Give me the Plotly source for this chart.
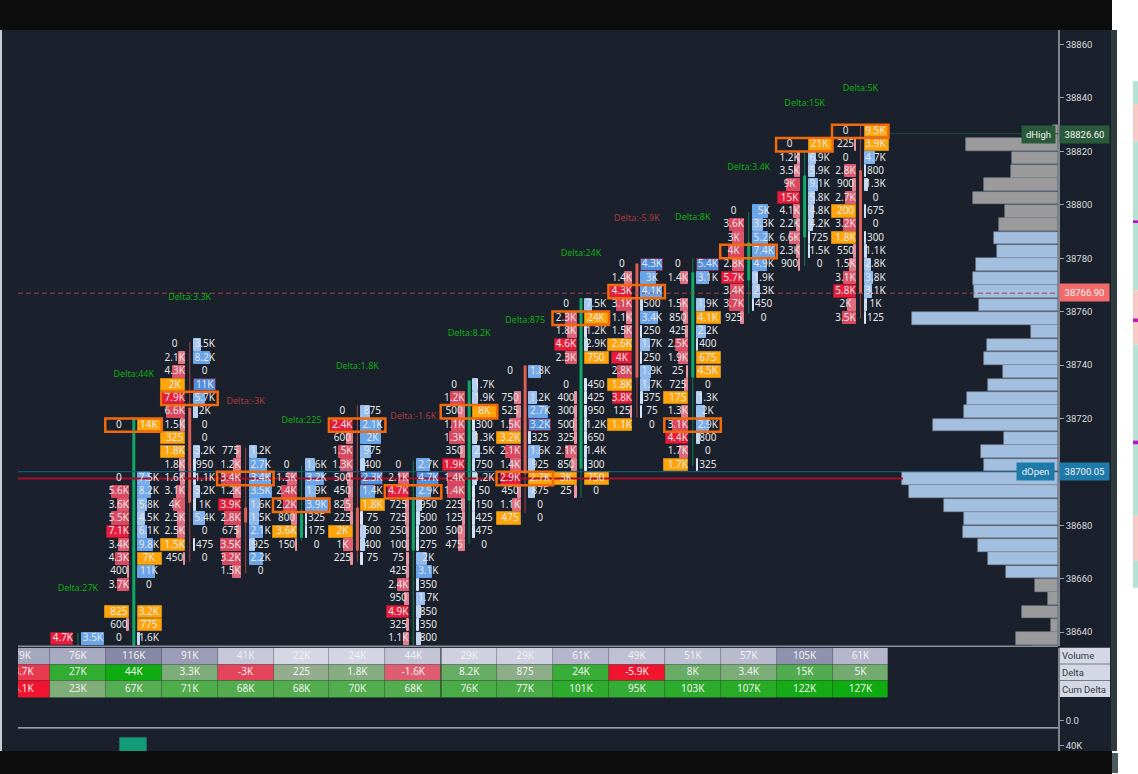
#!/usr/bin/env python3
"""Footprint chart with volume profile and delta table, redrawn in Plotly"""

import plotly.graph_objs as go

W, H = 1138, 776  # asked a bit taller than the window, the page does not scroll
PLOT_H = 775
COL_PX = 55.9
X0_PX = 22

# cells per column, top row first, a row every 5 points, None = empty row
c1_top, c1_bid, c1_ask = 38637.5, ['4.7K'], ['3.5K']
c2_top = 38717.5
c2_bid = ['0', None, None, None, '0', '5.6K', '3.6K', '5.5K', '7.1K', '3.4K', '4.3K', '400', '3.7K', None, '825', '600', '0']
c2_ask = ['14K', None, None, None, '7.5K', '8.2K', '5.8K', '4.5K', '6.1K', '9.8K', '7K', '11K', '0', None, '3.2K', '775', '1.6K']
c3_top = 38747.5
c3_bid = ['0', '2.1K', '4.3K', '2K', '7.9K', '6.6K', '1.5K', '325', '1.8K', '1.8K', '1.6K', '3.1K', '4K', '2.5K', '2.5K', '1.5K', '450']
c3_ask = ['3.5K', '8.2K', '0', '11K', '5.7K', '2K', '0', '0', '3.2K', '950', '1.1K', '3.2K', '1K', '5.4K', '0', '475', '0']
c4_top = 38707.5
c4_bid = ['775', '1.2K', '3.4K', '1.2K', '3.9K', '2.8K', '675', '3.5K', '3.2K', '1.5K']
c4_ask = ['1.2K', '2.7K', '3.4K', '3.5K', '1.6K', '1.5K', '2.1K', '925', '2.2K', '0']
c5_top = 38702.5
c5_bid = ['0', '1.5K', '2.4K', '2.2K', '800', '3.6K', '150']
c5_ask = ['1.6K', '3.2K', '1.9K', '3.9K', '325', '175', '0']
c6_top = 38722.5
c6_bid = ['0', '2.4K', '600', '1.5K', '1.3K', '500', '450', '825', '225', '2K', '1K', '225']
c6_ask = ['875', '2.1K', '2K', '975', '400', '2.3K', '1.4K', '1.8K', '75', '500', '400', '75']
c7_top = 38702.5
c7_bid = ['0', '2.1K', '4.7K', '725', '725', '250', '100', '75', '425', '2.4K', '950', '4.9K', '325', '1.1K']
c7_ask = ['2.7K', '4.7K', '2.9K', '950', '500', '200', '275', '2K', '3.1K', '350', '1.7K', '850', '350', '800']
c8_top = 38732.5
c8_bid = ['0', '1.2K', '500', '1.1K', '1.3K', '350', '1.9K', '1.4K', '1.4K', '225', '125', '500', '475']
c8_ask = ['1.7K', '1.9K', '8K', '300', '1.3K', '2.5K', '750', '1.2K', '50', '150', '425', '475', '0']
c9_top = 38737.5
c9_bid = ['0', None, '750', '525', '1.5K', '3.2K', '2.1K', '1.4K', '2.9K', '450', '1.1K', '475']
c9_ask = ['1.8K', None, '1.2K', '2.7K', '3.2K', '325', '1.6K', '925', '2.7K', '875', '0', '0']
c10_top = 38762.5
c10_bid = ['0', '2.3K', '1.8K', '4.6K', '2.3K', None, '0', '400', '300', '500', '325', '2.1K', '850', '3K', '25']
c10_ask = ['7.5K', '24K', '1.2K', '2.9K', '750', None, '450', '425', '950', '1.2K', '650', '1.4K', '300', '750', '0']
c11_top = 38777.5
c11_bid = ['0', '1.4K', '4.3K', '3.1K', '1.1K', '1.5K', '2.6K', '4K', '2.8K', '1.8K', '3.8K', '125', '1.1K']
c11_ask = ['4.3K', '3K', '4.1K', '500', '3.4K', '250', '1.7K', '250', '1.9K', '1.7K', '375', '75', '0']
c12_top = 38777.5
c12_bid = ['0', '1.4K', None, '1.5K', '850', '425', '2.5K', '1.9K', '25', '725', '175', '1.3K', '3.1K', '4.4K', '1.7K', '1.7K']
c12_ask = ['5.4K', '3.1K', None, '1.9K', '4.1K', '2.2K', '400', '675', '4.5K', '0', '1.3K', '2K', '2.9K', '800', '0', '325']
c13_top = 38797.5
c13_bid = ['0', '3.6K', '3K', '4K', '2.8K', '5.7K', '3.4K', '3.7K', '925']
c13_ask = ['5K', '3.3K', '5.2K', '7.4K', '4.9K', '1.9K', '2.3K', '450', '0']
c14_top = 38822.5
c14_bid = ['0', '1.2K', '3.5K', '9K', '15K', '4.1K', '2.2K', '6.6K', '2.3K', '900']
c14_ask = ['21K', '6.9K', '5.9K', '9.1K', '5.8K', '4.8K', '4.2K', '725', '1.5K', '0']
c15_top = 38827.5
c15_bid = ['0', '225', '0', '2.8K', '900', '2.7K', '200', '3.2K', '1.8K', '550', '1.5K', '3.1K', '5.8K', '2K', '3.5K']
c15_ask = ['9.5K', '3.9K', '4.7K', '800', '1.3K', '0', '675', '0', '300', '1.1K', '2.8K', '3.8K', '3.1K', '1K', '125']

col_tops = [c1_top, c2_top, c3_top, c4_top, c5_top, c6_top, c7_top, c8_top, c9_top, c10_top, c11_top, c12_top, c13_top, c14_top, c15_top]
col_bids = [c1_bid, c2_bid, c3_bid, c4_bid, c5_bid, c6_bid, c7_bid, c8_bid, c9_bid, c10_bid, c11_bid, c12_bid, c13_bid, c14_bid, c15_bid]
col_asks = [c1_ask, c2_ask, c3_ask, c4_ask, c5_ask, c6_ask, c7_ask, c8_ask, c9_ask, c10_ask, c11_ask, c12_ask, c13_ask, c14_ask, c15_ask]

# (column, price) of the flagged cells
amber_bid = [(2, 38647.5), (3, 38732.5), (3, 38712.5), (3, 38707.5), (3, 38672.5), (5, 38677.5), (6, 38677.5),
             (9, 38712.5), (9, 38682.5), (10, 38697.5), (11, 38747.5), (11, 38732.5), (11, 38717.5),
             (12, 38727.5), (12, 38702.5), (15, 38797.5), (15, 38787.5)]
amber_ask = [(2, 38717.5), (2, 38667.5), (2, 38647.5), (2, 38642.5), (6, 38687.5), (8, 38722.5), (9, 38697.5),
             (10, 38757.5), (10, 38742.5), (10, 38697.5), (12, 38757.5), (12, 38742.5), (12, 38737.5),
             (14, 38822.5), (15, 38827.5), (15, 38822.5)]
strong_bid = [(1, 38637.5), (2, 38677.5), (3, 38727.5), (4, 38687.5), (6, 38717.5), (7, 38692.5), (7, 38647.5),
              (8, 38702.5), (9, 38712.5), (9, 38697.5), (10, 38747.5), (11, 38767.5), (11, 38742.5), (11, 38727.5),
              (12, 38712.5), (13, 38772.5), (14, 38802.5), (15, 38767.5)]
strong_ask = [(3, 38732.5), (6, 38697.5), (7, 38697.5), (9, 38717.5), (11, 38777.5), (12, 38777.5)]
poc_rows = [(2, 38717.5), (3, 38727.5), (4, 38697.5), (5, 38687.5), (6, 38717.5), (7, 38692.5), (8, 38722.5),
            (9, 38697.5), (10, 38757.5), (11, 38767.5), (12, 38717.5), (13, 38782.5), (14, 38822.5), (15, 38827.5)]

# candle per column: wick high, wick low, body high, body low
candle_up = [True, True, False, False, True, False, True, True, False, True, False, True, True, True, False]
wick_high = [38639.7, 38720, 38748.5, 38709, 38702.3, 38724.8, 38704.2, 38734.2, 38739.8, 38765, 38778, 38780, 38797.2, 38820.4, 38829.8]
wick_low = [38634.8, 38634.8, 38666.3, 38662, 38674.2, 38666.3, 38634.8, 38673.1, 38684.7, 38690.3, 38720.3, 38702.3, 38759.3, 38777.3, 38757.4]
body_high = [38639.7, 38720, 38724, 38686.6, 38684.3, 38686.6, 38690.3, 38734.2, 38739.8, 38765, 38778, 38774.7, 38786, 38811, 38812.9]
body_low = [38639.7, 38634.8, 38688.5, 38681, 38675.3, 38670.5, 38670.5, 38689.2, 38699.3, 38701.2, 38735.3, 38735.3, 38771.7, 38787.8, 38766.8]

# delta captions over the columns
delta_cols = [1, 2, 3, 4, 5, 6, 7, 8, 9, 10, 11, 12, 13, 14, 15]
delta_text = ['Delta:27K', 'Delta:44K', 'Delta:3.3K', 'Delta:-3K', 'Delta:225', 'Delta:1.8K', 'Delta:-1.6K', 'Delta:8.2K',
              'Delta:875', 'Delta:24K', 'Delta:-5.9K', 'Delta:8K', 'Delta:3.4K', 'Delta:15K', 'Delta:5K']
delta_price = [38656.2, 38736.5, 38765, 38726.3, 38719.2, 38739.4, 38720.7, 38751.8, 38756.7, 38781.8, 38794.6, 38795, 38813.7, 38837.7, 38843.3]

# table under the footprint, first column is cut by the left edge
volume_row = ['79K', '76K', '116K', '91K', '41K', '22K', '24K', '44K', '29K', '29K', '61K', '49K', '51K', '57K', '105K', '61K']
delta_row = ['-3.7K', '27K', '44K', '3.3K', '-3K', '225', '1.8K', '-1.6K', '8.2K', '875', '24K', '-5.9K', '8K', '3.4K', '15K', '5K']
cum_row = ['-4.1K', '23K', '67K', '71K', '68K', '68K', '70K', '68K', '76K', '77K', '101K', '95K', '103K', '107K', '122K', '127K']
row_names = ['Volume', 'Delta', 'Cum Delta']

# volume profile, top row first
profile_top = 38827.5
profile_vol = [2.5, 46, 23, 23.5, 37, 42.5, 26.5, 29.5, 32, 30.5, 41, 42.5, 42, 39.5, 73, 13.5, 35.5, 37, 27.5, 35,
               45.5, 47, 62.5, 27, 38.5, 37, 78, 74.5, 57, 47, 47.5, 40, 35, 26, 11.5, 5, 18, 3.5, 21, 13]
value_area = (38662.5, 38787.5)

# price levels
d_high = 38826.60
d_open = 38700.05
last_price = 38766.90
red_level = 38697.5
price_ticks = [38640, 38660, 38680, 38700, 38720, 38740, 38760, 38780, 38800, 38820, 38840, 38860]
hidden_tick = 38700

BG = '#1a202c'
GREEN_BODY, RED_BODY = '#10a866', '#dd5f52'
GREEN_WICK, RED_WICK = '#11704c', '#8f3d3f'
AMBER = '#ffa50a'
ORANGE = '#f26a0c'
TEXT = '#e6e6e6'


def value_of(label):
    if label is None:
        return 0.0
    return float(label[:-1]) * 1000 if label.endswith('K') else float(label)


def mix(a, b, t):
    t = max(0.0, min(1.0, t))
    pa = [int(a[i:i + 2], 16) for i in (1, 3, 5)]
    pb = [int(b[i:i + 2], 16) for i in (1, 3, 5)]
    return 'rgb(%d,%d,%d)' % tuple(round(x + (y - x) * t) for x, y in zip(pa, pb))


def px_x(px):
    return (px - X0_PX) / COL_PX


def paper_x(px):
    return px / W


def paper_y(py):
    return 1 - py / PLOT_H


def price_at(py):
    return 38860 - (py - 44.5) / 2.667


def rect(x0, y0, x1, y1, color):
    return dict(type='rect', xref='paper', yref='paper', x0=paper_x(x0), x1=paper_x(x1),
                y0=paper_y(y0), y1=paper_y(y1), fillcolor=color, line=dict(width=0), layer='below')


def hline_px(x0, x1, y, color, width=1):
    return dict(type='line', xref='paper', yref='paper', x0=paper_x(x0), x1=paper_x(x1),
                y0=paper_y(y), y1=paper_y(y), line=dict(color=color, width=width))


def cell_lists():
    """Bars and labels for both sides of every footprint column"""
    bars = dict(x=[], base=[], y=[], color=[], edge=[])
    labels = dict(x=[], y=[], text=[])
    for col, (top, bids, asks) in enumerate(zip(col_tops, col_bids, col_asks), start=1):
        for side, cells, amber, strong in (('bid', bids, amber_bid, strong_bid), ('ask', asks, amber_ask, strong_ask)):
            peak = max(value_of(c) for c in cells) or 1
            for i, label in enumerate(cells):
                if label is None:
                    continue
                price = top - 5 * i
                vol = value_of(label)
                key = (col, price)
                if key in amber:
                    width, color, edge = 24, AMBER, '#c98a1c'
                elif vol == 0:
                    width, color, edge = 0, BG, BG
                else:
                    width = max(1.5, 22 * vol / peak)
                    if side == 'bid':
                        color = '#e81c3c' if key in strong else mix('#e79aa8', '#d9485f', vol / peak * 1.6)
                        edge = '#a01a30' if key in strong else color
                    else:
                        color = '#4f8fdf' if key in strong else mix('#dfe8f6', '#6aa5ea', vol / peak * 1.6)
                        edge = '#7a2a40' if key in strong else color
                if width:
                    gap = 4.5 if side == 'bid' else 4
                    start = col - (gap + width) / COL_PX if side == 'bid' else col + gap / COL_PX
                    bars['x'].append(width / COL_PX)
                    bars['base'].append(start)
                    bars['y'].append(price)
                    bars['color'].append(color)
                    bars['edge'].append(edge)
                labels['x'].append(col + (-15 if side == 'bid' else 15) / COL_PX)
                labels['y'].append(price)
                labels['text'].append(label)
    return bars, labels


fig = go.Figure()

# volume profile
profile_prices = [profile_top - 5 * i for i in range(len(profile_vol))]
x_right = px_x(1058)
profile_w = [v * 2 / COL_PX for v in profile_vol]
fig.add_trace(go.Bar(
    orientation='h', y=profile_prices, x=profile_w, base=[x_right - w for w in profile_w], width=4.75,
    marker=dict(color=['#a3bfe0' if value_area[0] <= p <= value_area[1] else '#9b9b9b' for p in profile_prices],
                line=dict(color='#7c8798', width=0.6)),
))

# footprint cells
bars, labels = cell_lists()
fig.add_trace(go.Bar(
    orientation='h', y=bars['y'], x=bars['x'], base=bars['base'], width=4.55,
    marker=dict(color=bars['color'], line=dict(color=bars['edge'], width=1)),
))

# candles
cols = list(range(1, 16))
for up, wick_color, body_color in ((True, GREEN_WICK, GREEN_BODY), (False, RED_WICK, RED_BODY)):
    wx, wy, bx, by = [], [], [], []
    for i, col in enumerate(cols):
        if candle_up[i] == up:
            wx += [col, col, None]
            wy += [wick_high[i], wick_low[i], None]
            bx += [col, col, None]
            by += [body_high[i], body_low[i], None]
    fig.add_trace(go.Scatter(x=wx, y=wy, mode='lines', line=dict(color=wick_color, width=1.2)))
    fig.add_trace(go.Scatter(x=bx, y=by, mode='lines', line=dict(color=body_color, width=3)))

# price levels
x_left = px_x(18)
fig.add_trace(go.Scatter(x=[x_left, x_right], y=[d_open, d_open], mode='lines', line=dict(color='#1a5f86', width=1)))
fig.add_trace(go.Scatter(x=[x_left, px_x(903)], y=[red_level, red_level], mode='lines', line=dict(color='#a30f2c', width=2)))
fig.add_trace(go.Scatter(x=[x_left, x_right], y=[last_price, last_price], mode='lines',
                         line=dict(color='#a04646', width=1, dash='5px,3px')))
fig.add_trace(go.Scatter(x=[px_x(888), x_right], y=[d_high, d_high], mode='lines', line=dict(color='#1f4a38', width=1)))

# cell text and delta captions
fig.add_trace(go.Scatter(x=labels['x'], y=labels['y'], text=labels['text'], mode='text',
                         textfont=dict(family='Noto Sans', size=10, color=TEXT)))
fig.add_trace(go.Scatter(
    x=delta_cols, y=delta_price, text=delta_text, mode='text',
    textfont=dict(family='Noto Sans', size=9, color=['#a83c3c' if '-' in t else '#10ad10' for t in delta_text]),
))

# table rows
table_cols = list(range(16))
row_h = 16.5
t_vol = [value_of(v) for v in volume_row]
t_delta = [value_of(v) for v in delta_row]
t_cum = [value_of(v) for v in cum_row]
vol_colors = [mix('#d6d7e5', '#8688a6', (v - 22000) / 94000) for v in t_vol]
delta_colors = [mix('#99ad94', '#10ab10', (v / 44000) ** 0.6) if v >= 0 else mix('#d8788a', '#f0142e', -v / 5900) for v in t_delta]
cum_colors = [mix('#8fae88', '#10ab10', (v / 127000) ** 1.2) if v >= 0 else '#f0142e' for v in t_cum]
for r, (row_text, row_colors) in enumerate(((volume_row, vol_colors), (delta_row, delta_colors), (cum_row, cum_colors))):
    base = 73 - row_h * (r + 1)
    fig.add_trace(go.Bar(x=table_cols, y=[row_h] * 16, base=[base] * 16, width=1, yaxis='y2',
                         marker=dict(color=row_colors, line=dict(color='rgba(30,40,50,0.25)', width=0.5))))
    fig.add_trace(go.Scatter(x=table_cols, y=[base + row_h / 2] * 16, text=row_text, mode='text', yaxis='y2',
                             textfont=dict(family='Noto Sans', size=10, color='#f0f0f0')))

# lower pane, only the largest delta reaches into view
fig.add_trace(go.Bar(x=table_cols, y=[abs(v) / 1000 for v in t_delta], width=0.48, yaxis='y3',
                     marker=dict(color='#159a78', line=dict(color='#1d6f5c', width=1))))

# tag arrows next to the price scale
tag_prices = [d_high, last_price, d_open]
tag_colors = ['#2a5a3c', '#f26b6b', '#1e7aa8']
fig.add_trace(go.Scatter(x=[px_x(1063)] * 3, y=tag_prices, mode='markers', cliponaxis=False,
                         marker=dict(symbol='triangle-left', size=11, color=tag_colors)))

shapes = [
    rect(2, 30, 1112, 750, BG),
    rect(0, 0, 1112, 30, '#0c0c0c'),
    rect(0, 750, 1112, 776, '#0c0c0c'),
    rect(0, 30, 2, 750, '#c9ccd2'),
    rect(1111, 30, 1117, 750, '#2f3a3d'),
    rect(1112, 752, 1118, 772, '#4c5a60'),
    rect(1059, 647, 1110, 663, '#d5d7e5'),
    rect(1059, 663.5, 1110, 679.5, '#d5d7e5'),
    rect(1059, 680, 1110, 696, '#d5d7e5'),
    # neighbouring chart peeking in at the right edge
    rect(1133, 81, 1138, 104, '#b6e2d6'),
    rect(1133, 104, 1138, 141, '#f9c9c6'),
    rect(1133, 141, 1138, 220, '#b6e2d6'),
    rect(1133, 220, 1138, 223, '#b414c8'),
    rect(1133, 223, 1138, 290, '#b6e2d6'),
    rect(1133, 290, 1138, 318, '#f9c9c6'),
    rect(1133, 318, 1138, 322, '#c41cb0'),
    rect(1133, 322, 1138, 344, '#f9c9c6'),
    rect(1133, 344, 1138, 440, '#b6e2d6'),
    rect(1133, 440, 1138, 444, '#b414c8'),
    rect(1133, 444, 1138, 515, '#b6e2d6'),
    rect(1133, 515, 1138, 560, '#f9c9c6'),
    rect(1133, 560, 1138, 587, '#b6e2d6'),
    hline_px(18, 1058, 645.5, '#8b9098', 1.5),
    hline_px(18, 1058, 727, '#c3c6cc', 1.2),
    dict(type='line', xref='paper', yref='paper', x0=paper_x(441), x1=paper_x(441), y0=paper_y(647), y1=paper_y(696),
         line=dict(color='#2b3a3a', width=1)),
]
for col, price in poc_rows:
    shapes.append(dict(type='rect', xref='x', yref='y', x0=col - 28.5 / COL_PX, x1=col + 28 / COL_PX,
                       y0=price - 2.5, y1=price + 2.5, line=dict(color=ORANGE, width=2.5)))

tags = [
    (1038.5, 134, 'dHigh', '#2a5a3c', 31),
    (1035.5, 471, 'dOpen', '#1e7aa8', 35),
    (1084, 134, '38826.60', '#2a5a3c', 47),
    (1084, 292.5, '38766.90', '#f26b6b', 47),
    (1084, 471, '38700.05', '#1e7aa8', 47),
]
annotations = [dict(xref='paper', yref='paper', x=paper_x(px), y=paper_y(py), text=txt, showarrow=False, width=wd,
                    height=15, bgcolor=bg, xanchor='center', yanchor='middle',
                    font=dict(family='Roboto', size=9.5, color='#f2f2f2'))
               for px, py, txt, bg, wd in tags]
for name, py in zip(row_names, (655, 672, 688.5)):
    annotations.append(dict(xref='paper', yref='paper', x=paper_x(1060), y=paper_y(py), xanchor='left', yanchor='middle',
                            text=name, showarrow=False, font=dict(family='Roboto', size=9.5, color='#333a44')))

axis_common = dict(showgrid=False, zeroline=False, fixedrange=True)
tick_font = dict(family='Roboto', size=9.5, color='#dcdcdc')
fig.update_layout(
    width=W, height=H, margin=dict(l=0, r=0, t=0, b=0), autosize=False,
    paper_bgcolor='#ffffff', plot_bgcolor='rgba(0,0,0,0)', barmode='overlay', bargap=0, showlegend=False,
    shapes=shapes, annotations=annotations, hovermode=False,
    xaxis=dict(domain=[paper_x(18), paper_x(1058)], range=[x_left, x_right], visible=False, anchor='y', **axis_common),
    yaxis=dict(domain=[paper_y(645), paper_y(30)], range=[price_at(645), price_at(30)], side='right', anchor='x',
               tickmode='array', tickvals=price_ticks, ticktext=[str(t) if t != hidden_tick else '' for t in price_ticks],
               ticks='outside', ticklen=4, tickcolor='#9a9ea6', showline=True, linecolor='#80858d', linewidth=1.5,
               tickfont=tick_font, **axis_common),
    yaxis2=dict(domain=[paper_y(727), paper_y(647)], range=[-7, 73], side='right', anchor='x',
                tickmode='array', tickvals=[0], ticktext=['0.0'], ticks='outside', ticklen=4, tickcolor='#9a9ea6',
                showline=True, linecolor='#80858d', linewidth=1.5, tickfont=tick_font, **axis_common),
    yaxis3=dict(domain=[paper_y(750), paper_y(727)], range=[37.5, 49], side='right', anchor='x',
                tickmode='array', tickvals=[40], ticktext=['40K'], ticks='outside', ticklen=4, tickcolor='#9a9ea6',
                showline=True, linecolor='#80858d', linewidth=1.5, tickfont=tick_font, **axis_common),
)

# the page's default body margin would shift everything by 8px, and the page must not scroll
fig.write_html("out.html", config={'displayModeBar': False},
               post_script="document.body.style.margin='0';document.documentElement.style.overflow='hidden';")
